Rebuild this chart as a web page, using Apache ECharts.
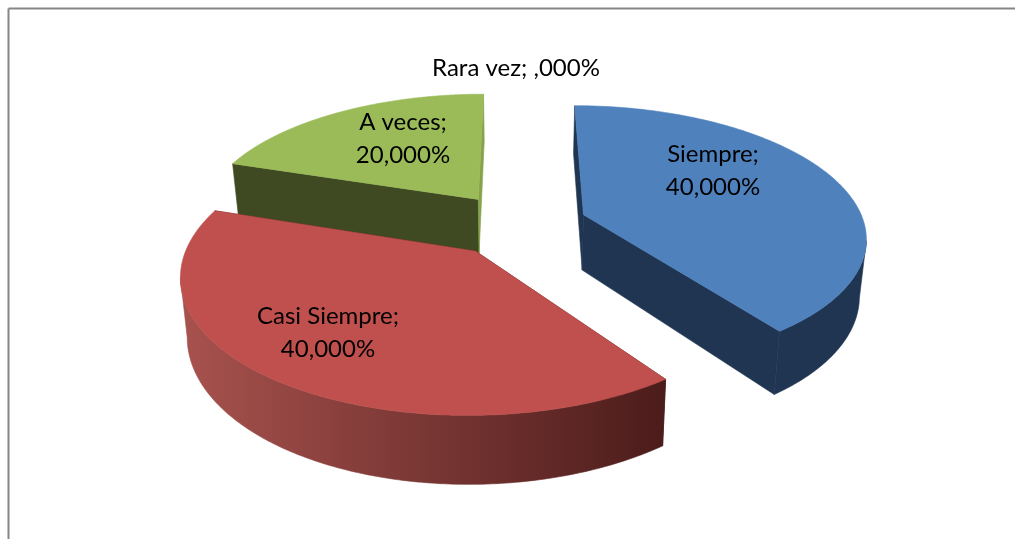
<!DOCTYPE html>
<html><head><meta charset="utf-8">
<style>html,body{margin:0;padding:0;background:#fff}#c{width:1015px;height:539px}</style>
<script src="https://cdn.jsdelivr.net/npm/echarts@6/dist/echarts.min.js"></script>
</head><body><div id="c"></div>
<script>
var categories = ['Siempre', 'Casi Siempre', 'A veces', 'Rara vez'];
var shares = [40, 40, 20, 0];
var shareLabels = ['40,000%', '40,000%', '20,000%', ',000%'];

var topColors = ['#4f81bd', '#c0504d', '#9bbb59', '#8064a2'];
var startFace = ['#1f3552', '#4f1e1c', '#3f4a22', '#3f3151'];
var endFace = ['#1f3552', '#4f1e1c', '#86a34b', '#3f3151'];
var wallFrom = ['#1f3552', '#a8524e', '#3f4a22', '#3f3151'];
var wallTo = ['#1f3552', '#4b1c1a', '#3f4a22', '#3f3151'];
var paintOrder = [2, 3, 1, 0];
var labelPos = [[713, 171], [328, 333], [403, 139], [516, 68]];
var labelInline = [false, false, false, true];

var view = {x0: 518, y0: 224.5, fx: 281, fy: 129, persp: 0.157, depth: 56, taper: 0.98, explode: 0.248};

function project(px, py, dropped) {
  var w = 1 / (1 - view.persp * py);
  var sx = dropped ? view.taper : 1;
  return [view.x0 + view.fx * px * w * sx, view.y0 + view.fy * py * w + (dropped ? view.depth * w : 0)];
}
var total = shares.reduce(function (a, b) { return a + b; }, 0);

function renderSlice(params, api) {
  var i = api.value(0);
  var before = 0;
  for (var k = 0; k < i; k++) before += shares[k];
  var a0 = before / total * 2 * Math.PI;
  var a1 = (before + api.value(1)) / total * 2 * Math.PI;
  var mid = (a0 + a1) / 2;
  var ex = Math.sin(mid) * view.explode, ey = -Math.cos(mid) * view.explode;
  var children = [];
  var z = paintOrder[i] * 10;
  if (a1 > a0) {
    var pt = function (a, d) { return project(ex + Math.sin(a), ey - Math.cos(a), d); };
    var ctr = function (d) { return project(ex, ey, d); };
    var topArc = [], frontTop = [], frontLow = [], n = 180;
    for (var s = 0; s <= n; s++) {
      var a = a0 + (a1 - a0) * s / n;
      var p = pt(a, false);
      topArc.push(p);
      // the outer wall is visible only where the rim runs right-to-left
      if (pt(a + 0.001, false)[0] < p[0]) {
        frontTop.push(p);
        frontLow.push(pt(a, true));
      }
    }
    var poly = function (points, fill, zz) {
      return {type: 'polygon', shape: {points: points}, style: {fill: fill, stroke: fill, lineWidth: 0.6}, z2: z + zz};
    };
    children.push(poly([ctr(false), pt(a0, false), pt(a0, true), ctr(true)], startFace[i], 0));
    children.push(poly([ctr(false), pt(a1, false), pt(a1, true), ctr(true)], endFace[i], 1));
    if (frontTop.length > 1) {
      children.push(poly(frontTop.concat(frontLow.reverse()), {
        type: 'linear', x: 0, y: 0, x2: 1, y2: 0,
        colorStops: [{offset: 0, color: wallFrom[i]}, {offset: 1, color: wallTo[i]}]
      }, 2));
    }
    children.push(poly([ctr(false)].concat(topArc), topColors[i], 3));
  }
  children.push({
    type: 'text', z2: 100,
    style: {
      x: labelPos[i][0], y: labelPos[i][1],
      text: categories[i] + ';' + (labelInline[i] ? ' ' : '\n') + shareLabels[i],
      align: 'center', verticalAlign: 'middle', lineHeight: 33,
      font: '24px Lato', fill: '#000'
    }
  });
  return {type: 'group', children: children};
}

var chart = echarts.init(document.getElementById('c'), null, {renderer: 'canvas'});
chart.setOption({
  animation: false,
  backgroundColor: '#fff',
  graphic: [
    {type: 'line', shape: {x1: 8.5, y1: 8.5, x2: 1015, y2: 8.5}, style: {stroke: '#868686', lineWidth: 2}, z: -1},
    {type: 'line', shape: {x1: 8.5, y1: 8.5, x2: 8.5, y2: 539}, style: {stroke: '#868686', lineWidth: 2}, z: -1}
  ],
  series: [{
    type: 'custom',
    coordinateSystem: 'none',
    renderItem: renderSlice,
    data: shares.map(function (v, i) { return [i, v]; }),
    silent: true
  }]
});
</script></body></html>
